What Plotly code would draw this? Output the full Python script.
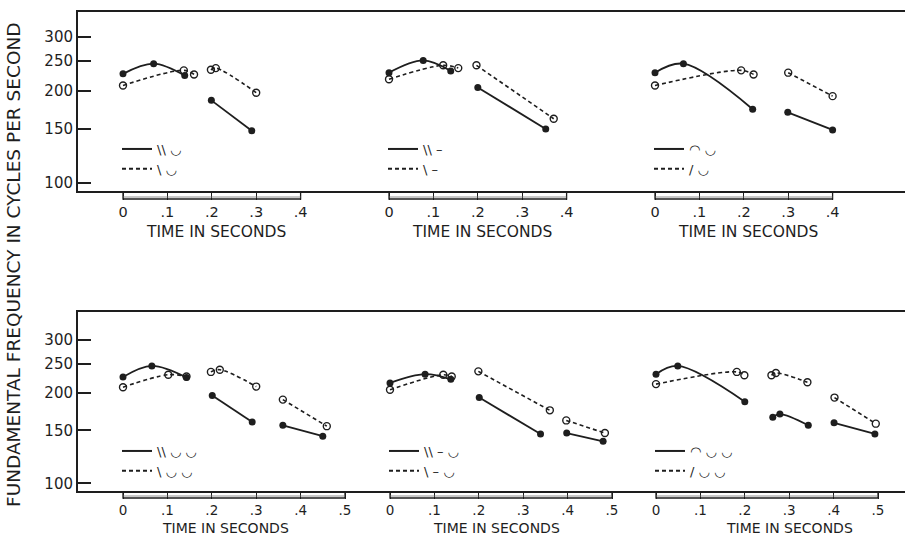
import plotly.graph_objects as go

W, H = 905, 537

# ---------------- data ----------------
freq_ticks = [100, 150, 200, 250, 300]
time_ticks_short = [0, 0.1, 0.2, 0.3, 0.4]
time_ticks_long = [0, 0.1, 0.2, 0.3, 0.4, 0.5]
time_text_short = ["0", ".1", ".2", ".3", ".4"]
time_text_long = ["0", ".1", ".2", ".3", ".4", ".5"]
x_title = "TIME IN SECONDS"
y_title = "FUNDAMENTAL FREQUENCY IN CYCLES PER SECOND"

# top row
a_solid_t = [0, 0.069, 0.139, None, 0.199, 0.290]
a_solid_f = [227, 245, 224, None, 186, 148]
a_dash_t = [0, 0.137, 0.160, None, 0.198, 0.209, 0.300]
a_dash_f = [208, 233, 226, None, 234, 237, 197]
a_labels = ["\\\\ \u25e1", "\\ \u25e1"]

b_solid_t = [0, 0.077, 0.139, None, 0.200, 0.353]
b_solid_f = [229, 251, 232, None, 205, 150]
b_dash_t = [0, 0.122, 0.156, None, 0.197, 0.371]
b_dash_f = [218, 242, 237, None, 242, 162]
b_labels = ["\\\\ \u2013", "\\ \u2013"]

c_solid_t = [0, 0.064, 0.220, None, 0.299, 0.400]
c_solid_f = [229, 245, 174, None, 170, 149]
c_dash_t = [0, 0.194, 0.222, None, 0.300, 0.400]
c_dash_f = [208, 233, 226, None, 229, 192]
c_labels = ["\u25e0 \u25e1", "/ \u25e1"]

# bottom row
d_solid_t = [0, 0.065, 0.143, None, 0.201, 0.291, None, 0.360, 0.450]
d_solid_f = [226, 246, 225, None, 196, 160, None, 156, 143.5]
d_dash_t = [0, 0.102, 0.143, None, 0.198, 0.218, 0.300, None, 0.360, 0.459]
d_dash_f = [209, 230, 227, None, 235, 239, 210, None, 190, 155]
d_labels = ["\\\\ \u25e1 \u25e1", "\\ \u25e1 \u25e1"]

e_solid_t = [0, 0.079, 0.137, None, 0.201, 0.339, None, 0.398, 0.480]
e_solid_f = [216, 231, 222, None, 193, 146, None, 147, 138]
e_dash_t = [0, 0.120, 0.139, None, 0.199, 0.360, None, 0.397, 0.484]
e_dash_f = [205, 230, 227, None, 236, 175, None, 162, 147]
e_labels = ["\\\\ \u2013 \u25e1", "\\ \u2013 \u25e1"]

f_solid_t = [0, 0.049, 0.200, None, 0.263, 0.279, 0.343, None, 0.401, 0.493]
f_solid_f = [231, 246, 187, None, 166, 170, 156, None, 159, 146]
f_dash_t = [0, 0.182, 0.199, None, 0.260, 0.270, 0.341, None, 0.402, 0.495]
f_dash_f = [214, 235, 229, None, 229, 233, 217, None, 193, 158]
f_labels = ["\u25e0 \u25e1 \u25e1", "/ \u25e1 \u25e1"]

panels = [
    dict(row=0, st=a_solid_t, sf=a_solid_f, dt=a_dash_t, df=a_dash_f, lab=a_labels, tv=time_ticks_short, tt=time_text_short),
    dict(row=0, st=b_solid_t, sf=b_solid_f, dt=b_dash_t, df=b_dash_f, lab=b_labels, tv=time_ticks_short, tt=time_text_short),
    dict(row=0, st=c_solid_t, sf=c_solid_f, dt=c_dash_t, df=c_dash_f, lab=c_labels, tv=time_ticks_short, tt=time_text_short),
    dict(row=1, st=d_solid_t, sf=d_solid_f, dt=d_dash_t, df=d_dash_f, lab=d_labels, tv=time_ticks_long, tt=time_text_long),
    dict(row=1, st=e_solid_t, sf=e_solid_f, dt=e_dash_t, df=e_dash_f, lab=e_labels, tv=time_ticks_long, tt=time_text_long),
    dict(row=1, st=f_solid_t, sf=f_solid_f, dt=f_dash_t, df=f_dash_f, lab=f_labels, tv=time_ticks_long, tt=time_text_long),
]

# ---------------- layout geometry (pixels) ----------------
FONT = "DejaVu Sans, Arial, sans-serif"
INK = "#1e1e1e"
frame_left = 77
row_frame = [(11, 192), (311, 492)]        # top, bottom pixel of each frame
row_yrange = [(1.9706, 2.561), (1.971, 2.574)]
origins = [123, 389, 655, 123, 390, 656]   # pixel of t = 0
px_per_s = 444
left_pad, right_pad = 25, 240
legend_top = [134, 436]
title_y = [232, 528]
title_t = [0.21, 0.21, 0.21, 0.23, 0.24, 0.30]
row_tick_font = [14.5, 13.5]
row_tick_len = [7, 6]
row_title_font = [15.5, 14]

fig = go.Figure()
layout = dict(
    width=W, height=H,
    margin=dict(l=0, r=0, t=0, b=0),
    plot_bgcolor="white", paper_bgcolor="white",
    font=dict(family=FONT, color=INK),
    showlegend=True,
)
shapes = []
annotations = []

for r in range(2):
    top, bot = row_frame[r]
    yname = "yaxis" if r == 0 else "yaxis2"
    layout[yname] = dict(
        type="log",
        domain=[1 - bot / H, 1 - top / H],
        range=list(row_yrange[r]),
        anchor="free", position=frame_left / W,
        tickvals=freq_ticks, ticktext=[str(v) for v in freq_ticks],
        ticks="inside", ticklen=13, tickwidth=2, tickcolor=INK,
        showline=True, linewidth=2, linecolor=INK,
        showgrid=False, zeroline=False,
        tickfont=dict(size=15, family=FONT, color=INK),
        fixedrange=True,
    )
    for yy in (top, bot):
        shapes.append(dict(type="line", xref="paper", yref="paper",
                           x0=(frame_left - 1) / W, x1=1.0, y0=1 - yy / H, y1=1 - yy / H,
                           line=dict(color=INK, width=2)))

for i, p in enumerate(panels):
    n = i + 1
    r = p["row"]
    xname = "xaxis" if n == 1 else f"xaxis{n}"
    xref = "x" if n == 1 else f"x{n}"
    yref = "y" if r == 0 else "y2"
    o = origins[i]
    top, bot = row_frame[r]
    tl = row_tick_len[r]
    layout[xname] = dict(
        domain=[(o - left_pad) / W, (o + right_pad) / W],
        range=[-left_pad / px_per_s, right_pad / px_per_s],
        anchor=yref,
        tickvals=p["tv"], ticktext=p["tt"],
        ticks="outside", ticklen=tl, tickwidth=1.3, tickcolor=INK,
        showline=False, showgrid=False, zeroline=False,
        tickfont=dict(size=row_tick_font[r], family=FONT, color=INK),
        ticklabelstandoff=0,
        fixedrange=True,
    )
    # time scale bar under the frame
    tmax = p["tv"][-1]
    shapes.append(dict(type="rect", xref=xref, yref="paper",
                       x0=p["tv"][0], x1=tmax, y0=1 - (bot + tl) / H, y1=1 - bot / H,
                       line=dict(color=INK, width=1.3)))
    shapes.append(dict(type="line", xref=xref, yref="paper",
                       x0=p["tv"][0], x1=tmax, y0=1 - (bot + tl - 2) / H, y1=1 - (bot + tl - 2) / H,
                       line=dict(color="#777", width=0.8)))
    annotations.append(dict(text=x_title, xref=xref, yref="paper",
                            x=title_t[i], y=1 - title_y[r] / H,
                            showarrow=False, xanchor="center", yanchor="middle",
                            font=dict(size=row_title_font[r], family=FONT, color=INK)))

    leg = "legend" if n == 1 else f"legend{n}"
    layout[leg] = dict(
        x=(o - 6) / W, y=1 - legend_top[r] / H, xanchor="left", yanchor="top",
        bgcolor="rgba(0,0,0,0)", borderwidth=0, tracegroupgap=0,
        font=dict(size=13, family=FONT, color=INK), itemclick=False, itemdoubleclick=False,
    )

    # data traces
    fig.add_trace(go.Scatter(
        x=p["st"], y=p["sf"], mode="lines+markers", xaxis=xref, yaxis=yref,
        line=dict(color=INK, width=1.8, shape="spline", smoothing=1.0),
        marker=dict(symbol="circle", size=7, color=INK),
        connectgaps=False, showlegend=False, hoverinfo="x+y"))
    fig.add_trace(go.Scatter(
        x=p["dt"], y=p["df"], mode="lines+markers", xaxis=xref, yaxis=yref,
        line=dict(color=INK, width=1.6, dash="4px,3px", shape="spline", smoothing=1.0),
        marker=dict(symbol="circle-open", size=7, color=INK, line=dict(width=1.4, color=INK)),
        connectgaps=False, showlegend=False, hoverinfo="x+y"))
    # legend keys
    fig.add_trace(go.Scatter(
        x=[None], y=[None], mode="lines", xaxis=xref, yaxis=yref, name=p["lab"][0],
        line=dict(color=INK, width=2), legend=leg, showlegend=True))
    fig.add_trace(go.Scatter(
        x=[None], y=[None], mode="lines", xaxis=xref, yaxis=yref, name=p["lab"][1],
        line=dict(color=INK, width=2, dash="4px,3px"), legend=leg, showlegend=True))

annotations.append(dict(text=y_title, xref="paper", yref="paper",
                        x=13 / W, y=1 - 265 / H, textangle=-90,
                        showarrow=False, xanchor="center", yanchor="middle",
                        font=dict(size=18.5, family=FONT, color=INK)))

layout["shapes"] = shapes
layout["annotations"] = annotations
fig.update_layout(**layout)
fig.write_html("out.html", config={"displayModeBar": False},
               post_script="document.body.style.margin='0px';document.body.style.padding='0px';")
